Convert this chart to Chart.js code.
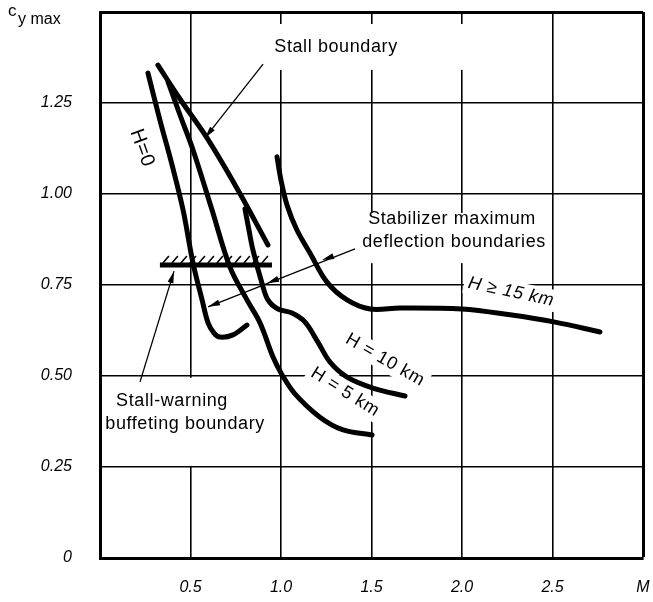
<!DOCTYPE html>
<html>
<head>
<meta charset="utf-8">
<script src="https://cdn.jsdelivr.net/npm/chart.js@4.4.1/dist/chart.umd.min.js"></script>
<style>
  html, body { margin: 0; padding: 0; background: #fff; }
  #wrap { width: 653px; height: 602px; }
</style>
</head>
<body>
<div id="wrap"><canvas id="chart"></canvas></div>
<script>
// axis ticks
const machTicks = [0, 0.5, 1.0, 1.5, 2.0, 2.5, 3.0];
const cyTicks = [0, 0.25, 0.5, 0.75, 1.0, 1.25, 1.5];

// H = 0
const h0Mach = [0.265, 0.331, 0.398, 0.459, 0.514, 0.564, 0.597, 0.630, 0.663, 0.735, 0.812];
const h0Cy = [1.332, 1.203, 1.080, 0.956, 0.810, 0.709, 0.646, 0.618, 0.607, 0.613, 0.640];

// stall boundary
const stallMach = [0.320, 0.442, 0.591, 0.762, 0.928];
const stallCy = [1.354, 1.261, 1.154, 1.011, 0.860];

// H = 5 km
const h5Mach = [0.376, 0.442, 0.514, 0.619, 0.718, 0.812, 0.884, 0.956, 1.006, 1.077, 1.215, 1.343, 1.503];
const h5Cy = [1.308, 1.217, 1.121, 0.956, 0.799, 0.709, 0.646, 0.552, 0.503, 0.451, 0.387, 0.352, 0.338];

// H = 10 km
const h10Mach = [0.801, 0.823, 0.845, 0.895, 0.928, 0.983, 1.061, 1.133, 1.204, 1.271, 1.365, 1.508, 1.685];
const h10Cy = [0.959, 0.901, 0.846, 0.755, 0.709, 0.684, 0.673, 0.648, 0.593, 0.538, 0.497, 0.467, 0.445];

// H >= 15 km
const h15Mach = [0.978, 1.000, 1.033, 1.088, 1.160, 1.254, 1.365, 1.492, 1.657, 1.999, 2.265, 2.514, 2.762];
const h15Cy = [1.102, 1.038, 0.970, 0.901, 0.838, 0.758, 0.709, 0.684, 0.687, 0.684, 0.668, 0.648, 0.621];

// stall-warning buffeting boundary (hatched)
const buffetMach = [0.331, 0.950];
const buffetCy = [0.805, 0.805];

// annotations, in data units (M, cy)
const textNotes = [
  { text: "Stall boundary", m: 1.304, c: 1.404, rot: 0 },
  { text: "Stabilizer maximum", m: 1.945, c: 0.931, rot: 0 },
  { text: "deflection boundaries", m: 1.956, c: 0.868, rot: 0 },
  { text: "Stall-warning", m: 0.398, c: 0.431, rot: 0 },
  { text: "buffeting boundary", m: 0.470, c: 0.368, rot: 0 },
  { text: "H=0", m: 0.232, c: 1.126, rot: 70, big: true },
  { text: "H \u2265 15 km", m: 2.271, c: 0.731, rot: 12, italic: true, bg: true },
  { text: "H = 10 km", m: 1.575, c: 0.544, rot: 30, bg: true },
  { text: "H = 5 km", m: 1.354, c: 0.456, rot: 32, bg: true }
];
const whiteBoxes = [
  [0.939, 1.467, 2.017, 1.341],
  [1.436, 0.948, 2.475, 0.810],
  [0.011, 0.495, 0.967, 0.253]
];
const arrows = [
  { from: [0.901, 1.357], to: [[0.580, 1.154]] },
  { from: [0.221, 0.484], to: [[0.409, 0.788]] },
  { from: [1.409, 0.849], to: [[1.227, 0.819], [0.923, 0.755], [0.597, 0.690]] }
];

function pts(ms, cs) {
  return ms.map((m, i) => ({ x: m, y: cs[i] }));
}

function curve(label, ms, cs) {
  return {
    label,
    data: pts(ms, cs),
    showLine: true,
    borderColor: "#000",
    borderWidth: 5,
    pointRadius: 0,
    tension: 0.35,
    fill: false,
    borderCapStyle: "round"
  };
}

function arrowHead(ctx, x0, y0, x1, y1) {
  const a = Math.atan2(y1 - y0, x1 - x0);
  ctx.beginPath();
  ctx.moveTo(x1, y1);
  ctx.lineTo(x1 - 12 * Math.cos(a) + 3 * Math.sin(a), y1 - 12 * Math.sin(a) - 3 * Math.cos(a));
  ctx.lineTo(x1 - 12 * Math.cos(a) - 3 * Math.sin(a), y1 - 12 * Math.sin(a) + 3 * Math.cos(a));
  ctx.closePath();
  ctx.fill();
}

function noteFont(n) {
  return (n.italic ? "italic " : "") + (n.big ? "20px" : "18px") + ' "Liberation Sans", Arial, sans-serif';
}

// drop the label overflow padding chart.js adds around the plot
function noPad(s) {
  s.paddingTop = 0;
  s.paddingBottom = 0;
  s.paddingLeft = 0;
  s.paddingRight = 0;
}

const notesPlugin = {
  id: "notes",
  beforeDatasetsDraw(chart) {
    const { ctx, scales: { x, y } } = chart;
    ctx.save();
    ctx.fillStyle = "#fff";
    whiteBoxes.forEach((b) => {
      const x1 = x.getPixelForValue(b[0]), y1 = y.getPixelForValue(b[1]);
      const x2 = x.getPixelForValue(b[2]), y2 = y.getPixelForValue(b[3]);
      ctx.fillRect(x1, y1, x2 - x1, y2 - y1);
    });
    // white behind rotated curve labels
    textNotes.filter((n) => n.bg).forEach((n) => {
      ctx.save();
      ctx.font = noteFont(n);
      ctx.letterSpacing = "0.6px";
      const w = ctx.measureText(n.text).width;
      ctx.translate(x.getPixelForValue(n.m), y.getPixelForValue(n.c));
      ctx.rotate((n.rot * Math.PI) / 180);
      ctx.fillRect(-w / 2 - 4, -11, w + 8, 22);
      ctx.restore();
    });
    ctx.restore();
  },
  afterDatasetsDraw(chart) {
    const { ctx, scales: { x, y } } = chart;
    ctx.save();
    ctx.strokeStyle = "#000";
    ctx.fillStyle = "#000";

    // hatches on buffeting boundary
    const hx1 = x.getPixelForValue(buffetMach[0]);
    const hx2 = x.getPixelForValue(buffetMach[1]);
    const hy = y.getPixelForValue(buffetCy[0]);
    ctx.lineWidth = 1.6;
    for (let px = hx1 + 3; px < hx2 - 2; px += 9) {
      ctx.beginPath();
      ctx.moveTo(px, hy - 2);
      ctx.lineTo(px + 6, hy - 9);
      ctx.stroke();
    }

    // arrows
    ctx.lineWidth = 1.3;
    arrows.forEach((a) => {
      const fx = x.getPixelForValue(a.from[0]), fy = y.getPixelForValue(a.from[1]);
      const last = a.to[a.to.length - 1];
      ctx.beginPath();
      ctx.moveTo(fx, fy);
      ctx.lineTo(x.getPixelForValue(last[0]), y.getPixelForValue(last[1]));
      ctx.stroke();
      a.to.forEach((t) => {
        arrowHead(ctx, fx, fy, x.getPixelForValue(t[0]), y.getPixelForValue(t[1]));
      });
    });

    // labels
    ctx.textAlign = "center";
    ctx.textBaseline = "middle";
    textNotes.forEach((n) => {
      ctx.save();
      ctx.font = noteFont(n);
      ctx.letterSpacing = "0.6px";
      ctx.translate(x.getPixelForValue(n.m), y.getPixelForValue(n.c));
      ctx.rotate((n.rot * Math.PI) / 180);
      ctx.fillText(n.text, 0, 0);
      ctx.restore();
    });
    ctx.restore();
  },
  afterDraw(chart) {
    // c_y max axis title
    const { ctx, scales: { y } } = chart;
    const top = y.getPixelForValue(1.5);
    ctx.save();
    ctx.fillStyle = "#000";
    ctx.textAlign = "left";
    ctx.textBaseline = "alphabetic";
    ctx.font = '17px "Liberation Sans", Arial, sans-serif';
    ctx.fillText("c", 8, top + 4);
    ctx.font = '16px "Liberation Sans", Arial, sans-serif';
    ctx.fillText("y max", 18, top + 12);
    ctx.restore();
  }
};

const tickFont = { family: '"Liberation Sans", Arial, sans-serif', size: 16, style: "italic" };

new Chart(document.getElementById("chart"), {
  type: "scatter",
  data: {
    datasets: [
      curve("H=0", h0Mach, h0Cy),
      curve("Stall boundary", stallMach, stallCy),
      curve("H=5 km", h5Mach, h5Cy),
      curve("H=10 km", h10Mach, h10Cy),
      curve("H>=15 km", h15Mach, h15Cy),
      Object.assign(curve("Buffeting boundary", buffetMach, buffetCy), { borderCapStyle: "butt", tension: 0 })
    ]
  },
  options: {
    responsive: true,
    maintainAspectRatio: false,
    devicePixelRatio: 1,
    animation: false,
    layout: { autoPadding: false, padding: { top: 12, right: 10, left: 0, bottom: 0 } },
    plugins: { legend: { display: false }, tooltip: { enabled: false } },
    scales: {
      x: {
        type: "linear",
        min: 0,
        max: 3,
        afterBuildTicks: (s) => { s.ticks = machTicks.map((v) => ({ value: v })); },
        afterFit: (s) => { s.height = 44; noPad(s); },
        border: { display: true, color: "#000", width: 3 },
        grid: {
          color: "#000",
          drawTicks: false,
          lineWidth: (c) => (c.tick && c.tick.value === 3 ? 3 : 1.6)
        },
        ticks: {
          color: "#000",
          font: tickFont,
          padding: 20,
          maxRotation: 0,
          autoSkip: false,
          callback: (v) => (v === 0 ? "" : v === 3 ? "M" : Number(v).toFixed(1))
        }
      },
      y: {
        type: "linear",
        min: 0,
        max: 1.5,
        afterBuildTicks: (s) => { s.ticks = cyTicks.map((v) => ({ value: v })); },
        afterFit: (s) => { s.width = 100; noPad(s); },
        border: { display: true, color: "#000", width: 3 },
        grid: {
          color: "#000",
          drawTicks: false,
          lineWidth: (c) => (c.tick && c.tick.value === 1.5 ? 3 : 1.6)
        },
        ticks: {
          color: "#000",
          font: tickFont,
          padding: 28,
          autoSkip: false,
          callback: (v) => (v === 0 ? "0" : v === 1.5 ? "" : Number(v).toFixed(2))
        }
      }
    }
  },
  plugins: [notesPlugin]
});
</script>
</body>
</html>
